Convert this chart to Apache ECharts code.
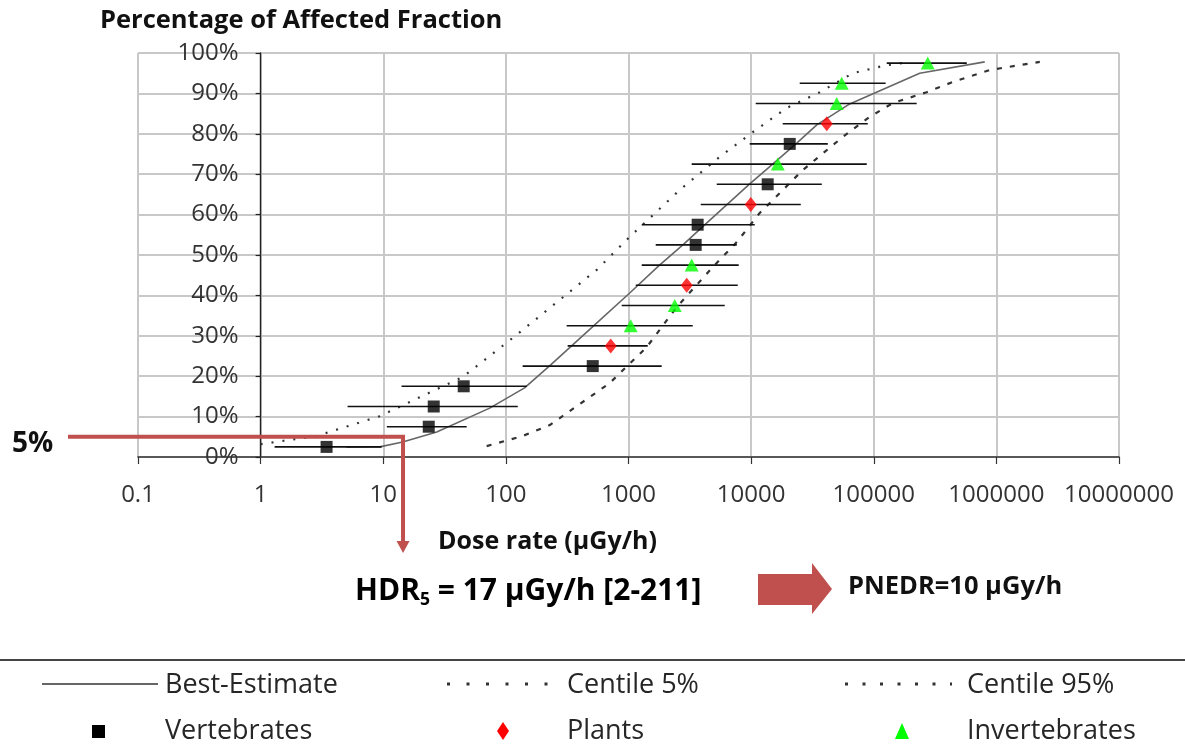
<!DOCTYPE html>
<html>
<head>
<meta charset="utf-8">
<script src="https://cdn.jsdelivr.net/npm/echarts@6/dist/echarts.min.js"></script>
<style>
html,body{margin:0;padding:0;background:#fff;}
#chart{width:1185px;height:753px;}
</style>
</head>
<body>
<div id="chart"></div>
<script>
// ---------- data ----------
const xTickLabels = ['0.1','1','10','100','1000','10000','100000','1000000','10000000'];
const yTickLabels = ['0%','10%','20%','30%','40%','50%','60%','70%','80%','90%','100%'];

// species points: dose (µGy/h), affected fraction (%), error bar low/high
const vertDose = [3.45, 23.5, 25.8, 45.3, 511, 3530, 3665, 13650, 20650];
const vertPct  = [2.5, 7.5, 12.5, 17.5, 22.5, 52.5, 57.5, 67.5, 77.5];
const vertLow  = [1.30, 10.7, 5.12, 14.1, 137, 1667, 1282, 5240, 9740];
const vertHigh = [9.70, 47.9, 125, 148, 1866, 7640, 10700, 37700, 42200];

const plantDose = [716, 2985, 9930, 41400];
const plantPct  = [27.5, 42.5, 62.5, 82.5];
const plantLow  = [319, 1145, 3880, 18100];
const plantHigh = [1435, 7780, 25400, 89400];

const invDose = [1042, 2383, 3275, 16500, 49900, 54800, 275600];
const invPct  = [32.5, 37.5, 47.5, 72.5, 87.5, 92.5, 97.5];
const invLow  = [313, 880, 1282, 3275, 10900, 24900, 127600];
const invHigh = [3340, 6090, 7920, 87700, 224000, 125000, 574000];

// curves: [dose, %]
const bestEstimate = [[5.0,2.4],[9.35,2.5],[14.4,3.7],[27.3,6.2],[73.8,12.1],[142,17.1],[232,22.8],[530,32.7],[1023,40.6],[1763,47.3],[2820,52.7],[4265,57.7],[9740,67.6],[15000,72.5],[23550,77.7],[34300,82.2],[63700,87.4],[237000,95],[804000,97.8]];
const centile5 = [[1.0,3.2],[1.18,3.5],[2.86,5.2],[9.35,10.1],[44.4,19.8],[122,30.2],[275,38.9],[550,46.3],[1023,54.5],[2620,66.1],[5550,74.3],[10300,80.4],[19500,86.4],[36300,90.3],[67400,95],[127600,97],[200000,97.8]];
const centile95 = [[69.7,2.7],[137,5.2],[228,7.9],[703,18.3],[1407,27.2],[2473,37.1],[4860,47],[7640,53.2],[11750,60.4],[17100,65.3],[26300,71],[55800,79.2],[92700,84.2],[143000,87.6],[270000,90.3],[440000,92.8],[883000,95.8],[2260000,97.8]];

// annotation
const hdrLevel = 5;      // %
const hdrDose = 14.5;    // µGy/h (drawn position of the 5% crossing)
const hdrText = ['HDR', '5', ' = 17 µGy/h [2-211]'];
const pnedrText = 'PNEDR=10 µGy/h';
const legendNames = ['Best-Estimate','Centile 5%','Centile 95%','Vertebrates','Plants','Invertebrates'];

// ---------- chart ----------
const FONT = "'Open Sans', 'Noto Sans', sans-serif";
const chart = echarts.init(document.getElementById('chart'), null, {renderer: 'canvas'});

const bars = [];
vertDose.forEach((d,i)=>bars.push([vertLow[i], vertHigh[i], vertPct[i]]));
plantDose.forEach((d,i)=>bars.push([plantLow[i], plantHigh[i], plantPct[i]]));
invDose.forEach((d,i)=>bars.push([invLow[i], invHigh[i], invPct[i]]));

const gridLeft = 138, gridRight = 66, gridTop = 53, gridBottom = 296;
const decadePx = (1185 - gridLeft - gridRight) / 8;

const option = {
  animation: false,
  backgroundColor: '#ffffff',
  textStyle: {fontFamily: FONT},
  grid: {left: gridLeft, right: gridRight, top: gridTop, bottom: gridBottom, containLabel: false},
  xAxis: {
    type: 'log', logBase: 10, min: 0.1, max: 10000000, splitNumber: 8,
    name: 'Dose rate (µGy/h)', nameLocation: 'middle', nameGap: 72,
    nameTextStyle: {fontFamily: FONT, fontSize: 25, fontWeight: 'bold', color: '#111', padding: [0, 162, 0, 0]},
    axisLine: {show: true, lineStyle: {color: '#333', width: 1.6}},
    axisTick: {show: true, length: 7, lineStyle: {color: '#333', width: 1.2}},
    axisLabel: {interval: 0, margin: 26, fontFamily: FONT, fontSize: 24, color: '#333',
      formatter: v => { const k = Math.round(Math.log10(v)) + 1; return xTickLabels[k] !== undefined ? xTickLabels[k] : ''; }},
    splitLine: {show: true, lineStyle: {color: '#c8c8c8', width: 2}},
    minorTick: {show: false}
  },
  yAxis: {
    type: 'value', min: 0, max: 100, interval: 10, position: 'left', offset: -decadePx,
    axisLine: {show: true, onZero: false, lineStyle: {color: '#222', width: 1.4}},
    axisTick: {show: true, length: 5, lineStyle: {color: '#222', width: 1.2}},
    axisLabel: {margin: 22, fontFamily: FONT, fontSize: 24, color: '#333',
      formatter: v => yTickLabels[Math.round(v / 10)]},
    splitLine: {show: true, lineStyle: {color: '#c8c8c8', width: 2}}
  },
  series: [
    {name: legendNames[0], type: 'line', data: bestEstimate, showSymbol: false, symbol: 'none',
      smooth: false, lineStyle: {color: '#666', width: 1.6}, z: 2, silent: true},
    {name: legendNames[1], type: 'line', data: centile5, showSymbol: false, symbol: 'none',
      smooth: false, lineStyle: {color: '#333', width: 2.2, type: [2, 9]}, z: 2, silent: true},
    {name: legendNames[2], type: 'line', data: centile95, showSymbol: false, symbol: 'none',
      smooth: false, lineStyle: {color: '#333', width: 2.2, type: [5, 8]}, z: 2, silent: true},
    {name: 'errorbars', type: 'custom', data: bars, encode: {x: [0, 1], y: 2}, z: 3, silent: true,
      renderItem: (params, api) => {
        const a = api.coord([api.value(0), api.value(2)]);
        const b = api.coord([api.value(1), api.value(2)]);
        return {type: 'line', shape: {x1: a[0], y1: a[1], x2: b[0], y2: b[1]},
          style: {stroke: '#111', lineWidth: 1.6}};
      }},
    {name: legendNames[3], type: 'scatter', data: vertDose.map((d,i)=>[d, vertPct[i]]),
      symbol: 'rect', symbolSize: 12, itemStyle: {color: '#000'}, z: 5, silent: true},
    {name: legendNames[4], type: 'scatter', data: plantDose.map((d,i)=>[d, plantPct[i]]),
      symbol: 'diamond', symbolSize: [12, 15], itemStyle: {color: '#ff0000'}, z: 5, silent: true},
    {name: legendNames[5], type: 'scatter', data: invDose.map((d,i)=>[d, invPct[i]]),
      symbol: 'triangle', symbolSize: [14, 13], itemStyle: {color: '#00ff00'}, z: 5, silent: true}
  ]
};
chart.setOption(option);

// ---------- annotations & legend ----------
function txt(x, y, text, size, weight, align, color) {
  return {type: 'text', z: 100, silent: true,
    style: {x: x, y: y, text: text, font: (weight || 'normal') + ' ' + size + 'px ' + FONT,
      fill: color || '#222', textAlign: align || 'left', textVerticalAlign: 'middle',
      align: align || 'left', verticalAlign: 'middle'}};
}
const p = chart.convertToPixel({gridIndex: 0}, [hdrDose, hdrLevel]);
const red = '#c0504d';
const elements = [
  txt(100, 21, 'Percentage of Affected Fraction', 25.5, 'bold', 'left', '#111'),
  txt(12, 444, '5%', 28, 'bold', 'left', '#111'),
  {type: 'polyline', z: 90, silent: true, shape: {points: [[68, p[1]], [p[0], p[1]], [p[0], 543]]},
    style: {stroke: red, lineWidth: 4, fill: null}},
  {type: 'polygon', z: 90, silent: true, shape: {points: [[p[0]-6.5, 541], [p[0]+6.5, 541], [p[0], 553]]},
    style: {fill: red}},
  {type: 'text', z: 100, silent: true, style: {x: 355, y: 591,
    text: '{a|' + hdrText[0] + '}{s|' + hdrText[1] + '}{a|' + hdrText[2] + '}',
    textAlign: 'left', textVerticalAlign: 'middle', align: 'left', verticalAlign: 'middle',
    rich: {
      a: {fontFamily: FONT, fontSize: 30, fontWeight: 'bold', color: '#111', lineHeight: 37},
      s: {fontFamily: FONT, fontSize: 17.5, fontWeight: 'bold', color: '#111', lineHeight: 17, verticalAlign: 'bottom'}
    }}},
  {type: 'polygon', z: 90, silent: true,
    shape: {points: [[758,574],[812,574],[812,563],[832,589],[812,614],[812,605],[758,605]]},
    style: {fill: red}},
  txt(848, 587, pnedrText, 25.5, 'bold', 'left', '#111'),
  // legend
  {type: 'line', z: 90, silent: true, shape: {x1: 0, y1: 660, x2: 1185, y2: 660}, style: {stroke: '#444', lineWidth: 2}},
  {type: 'line', z: 90, silent: true, shape: {x1: 42, y1: 684, x2: 158, y2: 684}, style: {stroke: '#333', lineWidth: 1.6}},
  txt(165, 685, legendNames[0], 27, 'normal', 'left', '#262626'),
  {type: 'line', z: 90, silent: true, shape: {x1: 447, y1: 684, x2: 550, y2: 684}, style: {stroke: '#333', lineWidth: 3, lineDash: [3, 16.5]}},
  txt(567, 685, legendNames[1], 27, 'normal', 'left', '#262626'),
  {type: 'line', z: 90, silent: true, shape: {x1: 845, y1: 684, x2: 952, y2: 684}, style: {stroke: '#333', lineWidth: 3, lineDash: [3, 14.5]}},
  txt(967, 685, legendNames[2], 27, 'normal', 'left', '#262626'),
  {type: 'rect', z: 90, silent: true, shape: {x: 92, y: 725, width: 13, height: 13}, style: {fill: '#000'}},
  txt(165, 731, legendNames[3], 27, 'normal', 'left', '#262626'),
  {type: 'polygon', z: 90, silent: true, shape: {points: [[503,722],[509,731],[503,740],[497,731]]}, style: {fill: '#ff0000'}},
  txt(567, 731, legendNames[4], 27, 'normal', 'left', '#262626'),
  {type: 'polygon', z: 90, silent: true, shape: {points: [[902,723],[909,739],[895,739]]}, style: {fill: '#00ff00'}},
  txt(967, 731, legendNames[5], 27, 'normal', 'left', '#262626')
];
chart.setOption({graphic: {elements: elements}});
</script>
</body>
</html>
